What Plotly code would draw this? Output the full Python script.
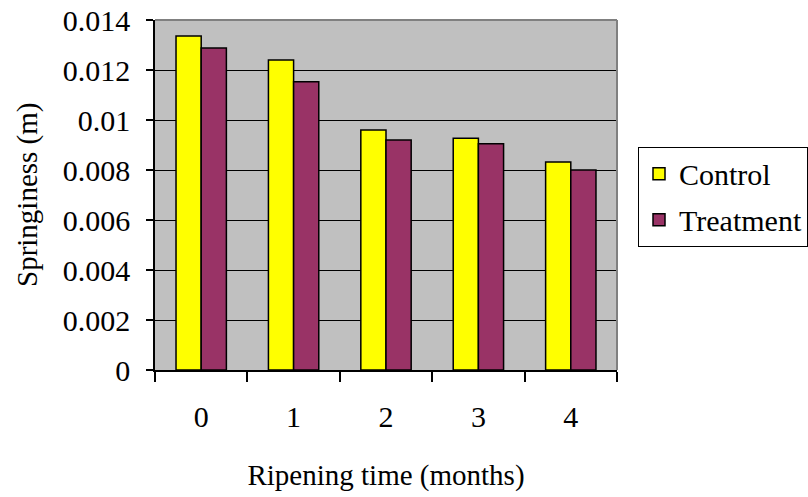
import plotly.graph_objects as go

# Springiness of cheese samples over ripening time
months = ["0", "1", "2", "3", "4"]
control = [0.01336, 0.0124, 0.0096, 0.00927, 0.00832]
treatment = [0.01288, 0.01153, 0.0092, 0.00905, 0.0080]

y_ticks = [0, 0.002, 0.004, 0.006, 0.008, 0.01, 0.012, 0.014]
y_tick_text = ["0", "0.002", "0.004", "0.006", "0.008", "0.01", "0.012", "0.014"]

FONT = "Liberation Serif, Times New Roman, serif"

fig = go.Figure()
fig.add_trace(go.Bar(
    name="Control", x=months, y=control,
    marker=dict(color="#FFFF00", line=dict(color="black", width=1.5)),
    legendgroup="c",
))
fig.add_trace(go.Bar(
    name="Treatment", x=months, y=treatment,
    marker=dict(color="#993366", line=dict(color="black", width=1.5)),
    legendgroup="t",
))

fig.update_layout(
    width=808, height=497,
    margin=dict(l=155, r=191, t=20, b=127),
    paper_bgcolor="white",
    plot_bgcolor="#C0C0C0",
    barmode="group",
    bargap=0.455,
    bargroupgap=0,
    font=dict(family=FONT, size=30, color="black"),
    showlegend=True,
    legend=dict(
        x=638 / 808, y=0.495, xref="container", yref="paper",
        xanchor="left", yanchor="middle",
        bordercolor="black", borderwidth=1,
        font=dict(family=FONT, size=30),
        traceorder="grouped", tracegroupgap=4,
        bgcolor="white",
    ),
    xaxis=dict(
        type="category",
        automargin=False,
        showline=True, linecolor="black", linewidth=1.5,
        ticks="outside", ticklen=10, tickcolor="black", tickwidth=1.5,
        tickson="boundaries",
        ticklabelstandoff=19,
        tickfont=dict(family=FONT, size=30),
        showgrid=False,
        title=dict(text="Ripening time (months)", font=dict(family=FONT, size=29), standoff=33),
    ),
    yaxis=dict(
        range=[0, 0.014],
        automargin=False,
        tickvals=y_ticks, ticktext=y_tick_text,
        tickfont=dict(family=FONT, size=30),
        showline=True, linecolor="black", linewidth=1.5,
        ticks="outside", ticklen=7, tickcolor="black", tickwidth=1.5,
        ticklabelstandoff=10,
        showgrid=True, gridcolor="black", gridwidth=1.3,
        zeroline=False,
    ),
    annotations=[
        dict(text="Springiness (m)", textangle=-90, showarrow=False,
             xref="paper", yref="paper", x=(27 - 155) / 462, y=0.5,
             xanchor="center", yanchor="middle",
             font=dict(family=FONT, size=29)),
    ],
    shapes=[
        dict(type="line", xref="paper", yref="paper", x0=0, x1=1, y0=1, y1=1,
             line=dict(color="#808080", width=2), layer="above"),
        dict(type="line", xref="paper", yref="paper", x0=1, x1=1, y0=0, y1=1,
             line=dict(color="#808080", width=2), layer="above"),
    ],
)

fig.write_html("out.html")
